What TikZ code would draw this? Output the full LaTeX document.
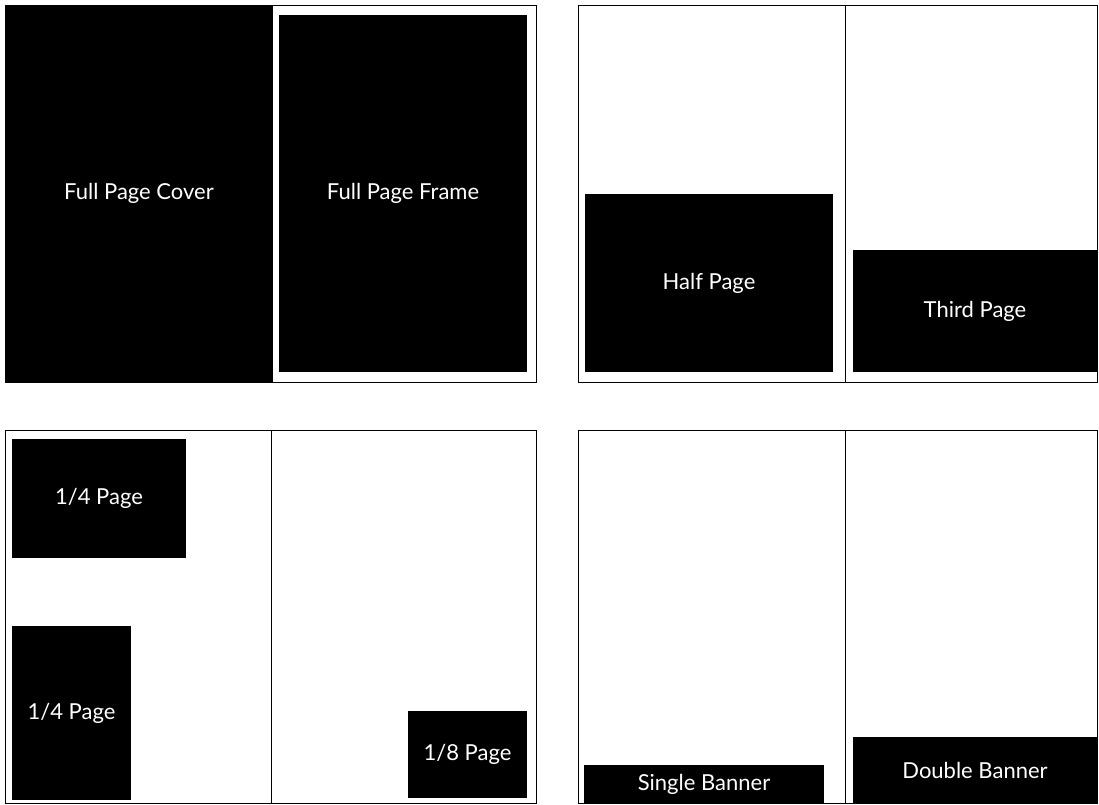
\documentclass[tikz,border=0pt]{standalone}
\usepackage{fontspec}
\setmainfont{Lato}
\begin{document}
\begin{tikzpicture}[x=1pt,y=-1pt,
  frame/.style={draw=black,line width=1pt},
  ad/.style={fill=black,text=white,inner sep=0pt,font=\fontsize{22}{25}\selectfont}]
\useasboundingbox (0,0) rectangle (1099,804);
% panels
\draw[frame] (5,5) rectangle (536,382);
\draw[frame] (578,5) rectangle (1097,382);
\draw[frame] (845,5) -- (845,382);
\draw[frame] (5,430) rectangle (536,803);
\draw[frame] (271,430) -- (271,803);
\draw[frame] (578,430) rectangle (1097,803);
\draw[frame] (845,430) -- (845,803);
% ads
\node[ad,minimum width=268pt,minimum height=377pt] (cover) at (139,193.5) {Full Page Cover};
\node[ad,minimum width=248pt,minimum height=357pt] (fframe) at (403,193.5) {Full Page Frame};
\node[ad,minimum width=248pt,minimum height=178pt] (half) at (709,283) {Half Page};
\node[ad,minimum width=244pt,minimum height=122pt] (third) at (975,311) {Third Page};
\node[ad,minimum width=174pt,minimum height=119pt] (q1) at (99,498.5) {1/4 Page};
\node[ad,minimum width=119pt,minimum height=174pt] (q2) at (71.5,713) {1/4 Page};
\node[ad,minimum width=119pt,minimum height=87pt] (eighth) at (467.5,754.5) {1/8 Page};
\node[ad,minimum width=240pt,minimum height=38pt] (single) at (704,784) {Single Banner};
\node[ad,minimum width=244pt,minimum height=66pt] (double) at (975,770) {Double Banner};
\end{tikzpicture}
\end{document}
